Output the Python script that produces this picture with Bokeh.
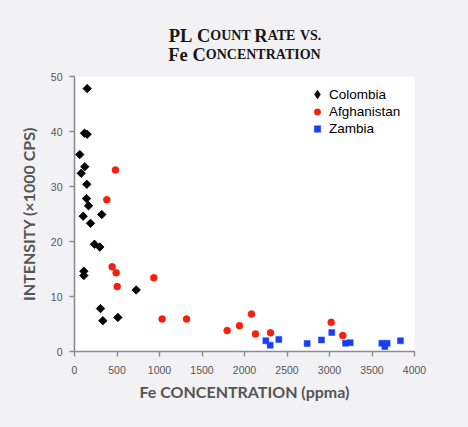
import numpy as np
from bokeh.plotting import figure
from bokeh.layouts import column
from bokeh.models import (Range1d, FixedTicker, Legend, LegendItem, ColumnDataSource,
                          GlobalInlineStyleSheet)
from bokeh.core.properties import value
from bokeh.embed import file_html
from bokeh.resources import INLINE

# ---- data ----
colombia_x = [149, 118, 149, 62, 121, 79, 145, 141, 165, 102, 321, 188, 235, 298,
              110, 110, 726, 306, 333, 510]
colombia_y = [47.8, 39.7, 39.5, 35.8, 33.6, 32.4, 30.4, 27.8, 26.5, 24.6, 24.9, 23.3,
              19.5, 19.0, 14.6, 13.8, 11.2, 7.8, 5.6, 6.2]

afghan_x = [482, 380, 443, 490, 502, 933, 1031, 1318, 1796, 1941, 2082, 2129, 2306,
            3020, 3156]
afghan_y = [33.0, 27.6, 15.4, 14.3, 11.8, 13.4, 5.9, 5.9, 3.8, 4.7, 6.8, 3.2, 3.4,
            5.3, 2.9]

zambia_x = [2251, 2302, 2404, 2737, 2906, 3027, 3188, 3243, 3616, 3678, 3651, 3835]
zambia_y = [1.95, 1.15, 2.2, 1.45, 2.1, 3.45, 1.5, 1.6, 1.5, 1.5, 0.9, 1.95]

series_names = ["Colombia", "Afghanistan", "Zambia"]
x_ticks = [0, 500, 1000, 1500, 2000, 2500, 3000, 3500, 4000]
y_ticks = [0, 10, 20, 30, 40, 50]

BG = "#f2f2f4"
AX = "#8c8c8c"
TXT = "#555555"
W_TOTAL = 468
TITLE_H = 64
FL, FW = 74, 340          # frame left / width (shared by both strips)

# ---------------- title strip (small caps built from text runs) ----------------
t = figure(width=W_TOTAL, height=TITLE_H, output_backend="svg", toolbar_location=None,
           x_range=Range1d(FL, FL + FW), y_range=Range1d(TITLE_H, 0),
           x_axis_type=None, y_axis_type=None,
           min_border_left=FL, min_border_right=W_TOTAL - FL - FW,
           min_border_top=0, min_border_bottom=0,
           frame_width=FW, frame_height=TITLE_H)
t.stylesheets = [GlobalInlineStyleSheet(css="body { background-color: %s; }" % BG)]
t.border_fill_color = BG
t.background_fill_color = BG
t.outline_line_color = None
t.grid.visible = False

Wd = {"P": .611, "L": .667, "C": .722, "O": .778, "U": .722, "N": .722, "T": .667,
      "R": .722, "A": .722, "E": .667, "V": .722, "S": .556, ".": .25, "F": .611,
      "e": .444, "I": .389, " ": .25}
BIG, SMALL = 18.5, 14.0
title_line1 = [("PL ", BIG), ("C", BIG), ("OUNT ", SMALL), ("R", BIG), ("ATE ", SMALL),
               ("VS.", SMALL)]
title_line2 = [("Fe ", BIG), ("C", BIG), ("ONCENTRATION", SMALL)]

tx, ty, tt, ts = [], [], [], []
for runs, base in ((title_line1, 35), (title_line2, 54)):
    widths = [sum(Wd[c] for c in s) * z for s, z in runs]
    x = 244.5 - sum(widths) / 2.0
    for (s, z), w in zip(runs, widths):
        tx.append(x)
        ty.append(base)
        tt.append(s.rstrip())
        ts.append("%.1fpx" % z)
        x += w
tsrc = ColumnDataSource(dict(x=tx, y=ty, text=tt, size=ts))
t.text(x="x", y="y", text="text", source=tsrc, text_font=value("Liberation Serif"),
       text_font_style="bold", text_font_size="size", text_color="#161616",
       text_align="left", text_baseline="alphabetic")

# ---------------- main chart ----------------
p = figure(width=W_TOTAL, height=427 - TITLE_H, output_backend="svg",
           toolbar_location=None,
           x_range=Range1d(0, 4000), y_range=Range1d(0, 50),
           min_border_left=FL, min_border_right=W_TOTAL - FL - FW,
           min_border_top=76 - TITLE_H, min_border_bottom=76,
           frame_width=FW, frame_height=275)
p.border_fill_color = BG
p.background_fill_color = "white"
p.outline_line_color = None
p.grid.visible = False

for ax in (p.xaxis[0], p.yaxis[0]):
    ax.axis_line_color = AX
    ax.axis_line_width = 1.6
    ax.major_tick_line_color = AX
    ax.major_tick_line_width = 1.4
    ax.major_tick_out = 5
    ax.major_tick_in = 0
    ax.minor_tick_line_color = None
    ax.major_label_text_font = "Liberation Sans"
    ax.major_label_text_font_size = "10.5px"
    ax.major_label_text_color = TXT
    ax.axis_label_text_font = "Lato"
    ax.axis_label_text_font_style = "bold"
    ax.axis_label_text_font_size = "16px"
    ax.axis_label_text_color = TXT

p.xaxis.ticker = FixedTicker(ticks=x_ticks)
p.yaxis.ticker = FixedTicker(ticks=y_ticks)
p.xaxis.axis_label = "Fe CONCENTRATION (ppma)"
p.yaxis.axis_label = "INTENSITY (\u00d71000 CPS)"
p.xaxis.major_label_standoff = 9
p.xaxis.axis_label_standoff = 5
p.yaxis.major_label_standoff = 7
p.yaxis.axis_label_standoff = 10

# small diamond hidden under the rotated squares: gives the legend its diamond glyph
r_col_leg = p.scatter(colombia_x, colombia_y, marker="diamond", size=4,
                      fill_color="black", line_color="black", line_width=0.5)
r_col = p.scatter(colombia_x, colombia_y, marker="square", size=6, angle=np.pi / 4,
                  fill_color="black", line_color="black", line_width=0.8)
r_afg = p.scatter(afghan_x, afghan_y, marker="circle", size=7,
                  fill_color="#f5200c", line_color="#f5200c", line_width=0.5)
r_zam = p.scatter(zambia_x, zambia_y, marker="square", size=6,
                  fill_color="#1a3ef5", line_color="#1a3ef5", line_width=0.5)

leg_common = dict(padding=0, margin=0, spacing=0, border_line_color=None,
                  background_fill_alpha=0, label_text_font="Liberation Sans",
                  label_text_font_size="13.5px", label_text_color="black")
legend_a = Legend(items=[LegendItem(label=series_names[0], renderers=[r_col_leg])],
                  location=(232, 246), glyph_width=22, glyph_height=22,
                  label_height=22, label_standoff=1, **leg_common)
legend_b = Legend(items=[LegendItem(label=series_names[1], renderers=[r_afg]),
                         LegendItem(label=series_names[2], renderers=[r_zam])],
                  location=(235, 214), glyph_width=16, glyph_height=17,
                  label_height=17, label_standoff=4, **leg_common)
p.add_layout(legend_a)
p.add_layout(legend_b)

layout = column(t, p, spacing=0)
open("out.html", "w").write(file_html(layout, INLINE))
